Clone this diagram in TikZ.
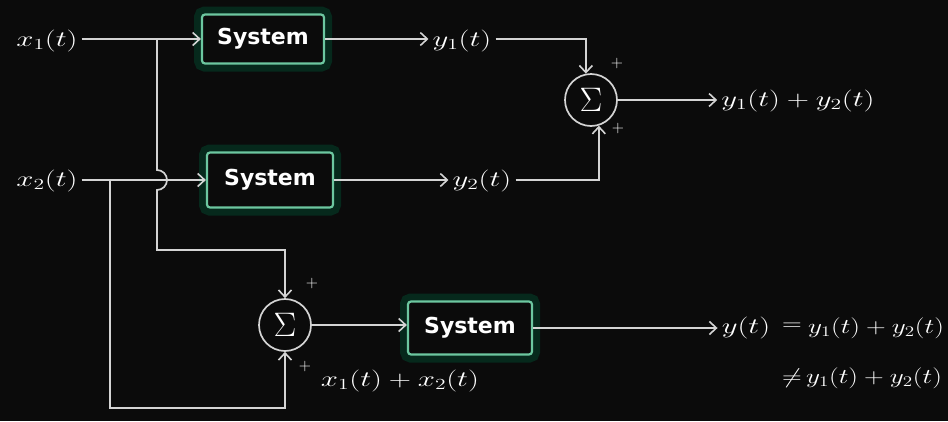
\RequirePackage{fix-cm}
\documentclass[tikz,border=0pt]{standalone}
\usepackage{fontspec}
\newfontfamily\sysfont{DejaVu Sans}
\usetikzlibrary{arrows.meta}
\definecolor{bg}{HTML}{0B0B0B}
\definecolor{ln}{HTML}{D4D4D4}
\definecolor{bx}{HTML}{6CC7A0}
\definecolor{glow}{HTML}{06291C}
\newcommand{\lb}[1]{\scalebox{1.4}[1]{$#1$}}
\newcommand{\lbs}[1]{\scalebox{1.3}[1]{$#1$}}
\begin{document}
\begin{tikzpicture}[x=1pt,y=-1pt,
  line/.style={draw=ln, line width=1.7pt},
  arr/.style={line, -{Straight Barb[length=7pt,width=13pt,line width=1.6pt]}},
  sysbox/.style={draw=bx, line width=2.2pt, rounded corners=3pt, fill=bg, text=white,
    font=\sysfont\bfseries\fontsize{22}{24}\selectfont,
    preaction={draw=glow, line width=16pt}},
  sum/.style={circle, draw=ln, line width=1.7pt, minimum size=52pt, inner sep=0pt,
    text=white, font=\fontsize{34}{38}\selectfont},
  lab/.style={text=white, inner sep=4pt, font=\fontsize{22}{26}\selectfont},
  labs/.style={text=white, inner sep=4pt, font=\fontsize{21}{26}\selectfont},
  plus/.style={text=white, inner sep=0pt, font=\fontsize{16}{20}\selectfont}]
\fill[bg] (0,0) rectangle (948,421);
% blocks
\node[sysbox, minimum width=122pt, minimum height=49pt] (s1) at (263,39) {System};
\node[sysbox, minimum width=126pt, minimum height=55pt] (s2) at (270,180) {System};
\node[sysbox, minimum width=124pt, minimum height=53pt] (s3) at (470,328) {System};
\node[sum] (sig1) at (591,100) {$\Sigma$};
\node[sum] (sig2) at (285,325) {$\Sigma$};
% labels
\node[lab] (x1) at (47,41) {\lb{x_1(t)}};
\node[lab] (x2) at (47,181) {\lb{x_2(t)}};
\node[lab] (y1) at (462,41) {\lb{y_1(t)}};
\node[lab] (y2) at (482,181) {\lb{y_2(t)}};
\node[lab] (ysum) at (798,101) {\lb{y_1(t)+y_2(t)}};
\node[lab] (xsum) at (400,381) {\lb{x_1(t)+x_2(t)}};
\node[lab] (yout) at (746,328) {\lb{y(t)}};
\node[labs] (eq) at (792,327) {\lbs{=}};
\node[labs] (rhs1) at (876,328) {\lbs{y_1(t)+y_2(t)}};
\node[labs] (neq) at (792,378) {\lbs{\ne}};
\node[labs] (rhs2) at (874,378) {\lbs{y_1(t)+y_2(t)}};
% plus signs
\node[plus] (p1) at (617,63) {$+$};
\node[plus] (p2) at (618,128) {$+$};
\node[plus] (p3) at (312,283) {$+$};
\node[plus] (p4) at (305,366) {$+$};
% junctions
\coordinate (j1) at (157,39);
\coordinate (j2) at (110,180);
% connectors
\draw[arr] (x1.east |- s1) -- (s1.west);
\draw[arr] (x2.east |- s2) -- (s2.west);
\draw[arr] (j1) -- (157,170) arc[start angle=-90, end angle=90, radius=10] -- (157,250) -| (sig2.north);
\draw[arr] (j2) -- (110,408) -| (sig2.south);
\draw[arr] (s1.east) -- (y1.west |- s1);
\draw[arr] (y1.east |- s1) -| (sig1.101);
\draw[arr] (s2.east) -- (y2.west |- s2);
\draw[arr] (y2.east |- s2) -| (sig1.-73);
\draw[arr] (sig1.east) -- (ysum.west |- sig1);
\draw[arr] (sig2.east) -- (s3.west |- sig2);
\draw[arr] (s3.east) -- (yout.west |- s3);
\end{tikzpicture}
\end{document}
